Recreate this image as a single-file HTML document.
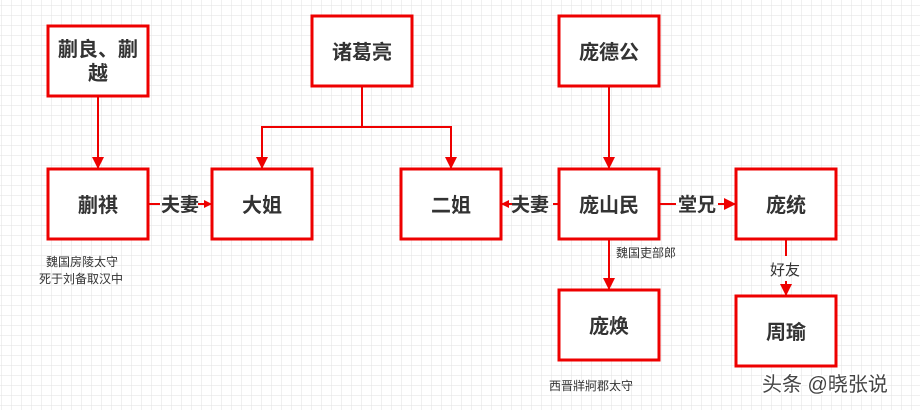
<!DOCTYPE html>
<html><head><meta charset="utf-8"><style>
html,body{margin:0;padding:0;background:#fff}
svg{display:block}
text{font-family:"Liberation Sans","Noto Sans CJK SC",sans-serif;fill:#333}
.b{font-size:20px;font-weight:bold}
.l{font-size:19px;font-weight:bold}
.s{font-size:12px}
</style></head><body>
<svg width="920" height="410" xmlns="http://www.w3.org/2000/svg">
<defs>
<pattern id="g" width="10" height="10" patternUnits="userSpaceOnUse" x="2" y="6">
<path d="M10 0V10M0 10H10" stroke="#e2e2e2" stroke-width="1" fill="none"/>
</pattern>
<marker id="a" markerWidth="8" markerHeight="8" refX="7" refY="4" orient="auto" markerUnits="userSpaceOnUse">
<path d="M0,0L8,4L0,8Z" fill="#e00"/></marker>
<marker id="a2" markerWidth="12" markerHeight="12" refX="11" refY="6" orient="auto" markerUnits="userSpaceOnUse">
<path d="M0,0L12,6L0,12Z" fill="#e00"/></marker>
</defs>
<rect width="920" height="410" fill="url(#g)"/>
<g stroke="#e00" stroke-width="2" fill="none">
<path d="M98 96V168" marker-end="url(#a2)"/>
<path d="M362 86V127H262V168" marker-end="url(#a2)"/>
<path d="M362 127H451V168" marker-end="url(#a2)"/>
<path d="M609 86V168" marker-end="url(#a2)"/>
<path d="M148 204H160M198 204H211" marker-end="url(#a)"/>
<path d="M559 204H553M516 204H502" marker-end="url(#a)"/>
<path d="M659 204H676M718 204H735" marker-end="url(#a2)"/>
<path d="M609 239V289" marker-end="url(#a2)"/>
<path d="M786 239V256M786 281V295" marker-end="url(#a2)"/>
</g>
<g stroke="#e00" stroke-width="3" fill="#fff">
<rect x="48" y="26" width="100" height="70"/>
<rect x="312" y="16" width="100" height="70"/>
<rect x="559" y="16" width="100" height="70"/>
<rect x="48" y="169" width="100" height="70"/>
<rect x="212" y="169" width="100" height="70"/>
<rect x="401" y="169" width="100" height="70"/>
<rect x="559" y="169" width="100" height="70"/>
<rect x="736" y="169" width="100" height="70"/>
<rect x="559" y="290" width="100" height="70"/>
<rect x="736" y="296" width="100" height="70"/>
</g>
<g class="b" text-anchor="middle">
<text x="98" y="56">蒯良、蒯</text>
<text x="98" y="80">越</text>
<text x="362" y="59">诸葛亮</text>
<text x="609" y="59">庞德公</text>
<text x="98" y="212">蒯祺</text>
<text x="262" y="212">大姐</text>
<text x="451" y="212">二姐</text>
<text x="609" y="212">庞山民</text>
<text x="786" y="212">庞统</text>
<text x="609" y="333">庞焕</text>
<text x="786" y="339">周瑜</text>
</g>
<g class="l" text-anchor="middle">
<text x="180" y="211">夫妻</text>
<text x="530" y="211">夫妻</text>
<text x="697" y="211">堂兄</text>
</g>
<g class="s">
<text x="46" y="266">魏国房陵太守</text>
<text x="39" y="283">死于刘备取汉中</text>
<text x="616" y="257">魏国吏部郎</text>
<text x="549" y="390">西晋牂牁郡太守</text>
<text x="770" y="275" style="font-size:15px">好友</text>
</g>
<text x="762" y="391" style="font-size:20px;fill:#444;stroke:#fff;stroke-width:3;paint-order:stroke">头条 @晓张说</text>
</svg>
</body></html>
